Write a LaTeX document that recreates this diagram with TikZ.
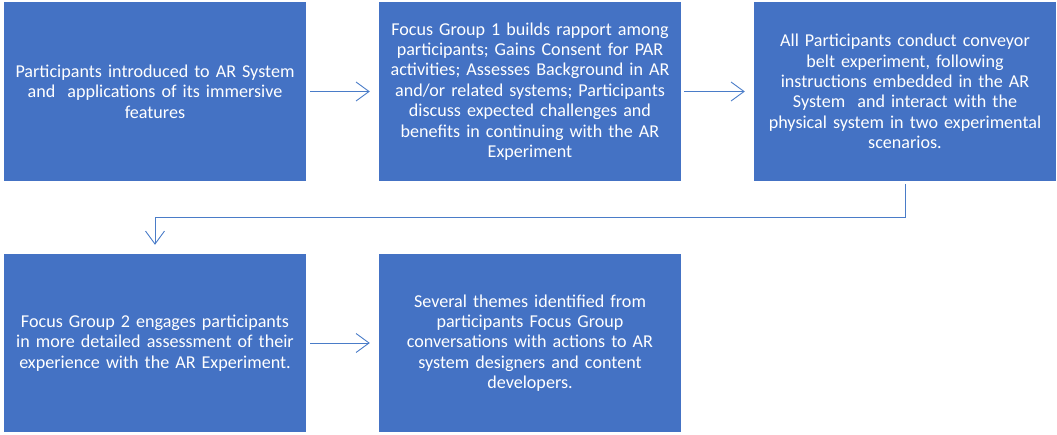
\documentclass[tikz,border=0pt]{standalone}
\usepackage{fontspec}
\setmainfont{Carlito}
\usepackage{tikz}
\usetikzlibrary{arrows.meta,positioning}
\definecolor{boxblue}{HTML}{4472C4}
\definecolor{lineblue}{HTML}{4A7CC8}

\begin{document}
\begin{tikzpicture}[x=1pt,y=1pt]
    % --- Styles ---
    \tikzstyle{stage}=[fill=boxblue, text=white, minimum width=302pt, minimum height=179pt, inner sep=0pt, text width=300pt, align=center, font=\fontsize{18.1}{20.4}\selectfont]
    \tikzstyle{flow}=[draw=lineblue, line width=0.9pt, -{Straight Barb[length=13pt,width=19pt,line width=0.9pt]}]

    \useasboundingbox (0,0) rectangle (1057,434);

    % --- 1. Top row ---
    \node[stage] (intro) at (155,342.5) {Participants introduced to AR System\\and\ \ applications of its immersive\\features};
    \node[stage] (fgone) at (530,342.5) {Focus Group 1 builds rapport among\\participants; Gains Consent for PAR\\activities; Assesses Background in AR\\and/or related systems; Participants\\discuss expected challenges and\\benefits in continuing with the AR\\Experiment};
    \node[stage] (belt) at (905,342.5) {All Participants conduct conveyor\\belt experiment, following\\instructions embedded in the AR\\System\ \ and interact with the\\physical system in two experimental\\scenarios.};

    % --- 2. Bottom row ---
    \node[stage, minimum height=178pt] (fgtwo) at (155,91) {Focus Group 2 engages participants\\in more detailed assessment of their\\experience with the AR Experiment.};
    \node[stage, minimum height=178pt] (themes) at (530,91) {Several themes identified from\\participants Focus Group\\conversations with actions to AR\\system designers and content\\developers.};

    % --- 3. Connectors ---
    \draw[flow, shorten <=4pt, shorten >=9pt] (intro) -- (fgone);
    \draw[flow, shorten <=3pt, shorten >=9pt] (fgone) -- (belt);
    \draw[flow, shorten <=3pt, shorten >=9pt] (belt.south) -- ++(0,-36) -| (fgtwo.north);
    \draw[flow, shorten <=4pt, shorten >=9pt] (fgtwo) -- (themes);
\end{tikzpicture}
\end{document}
